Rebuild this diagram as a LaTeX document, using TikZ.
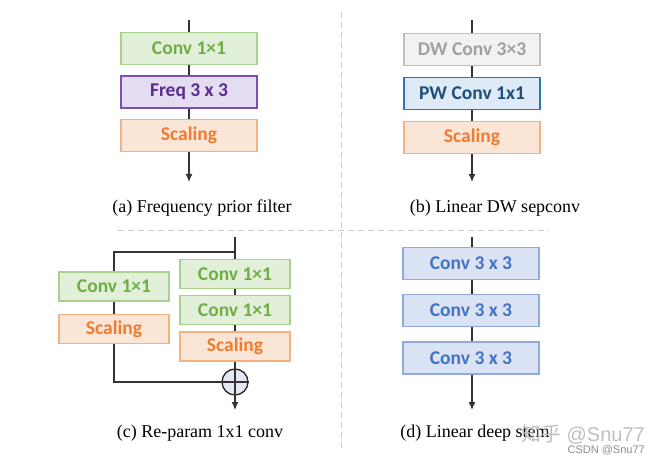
\documentclass[tikz,border=0pt]{standalone}
\usepackage{fontspec}
\setmainfont{Liberation Serif}
\newfontfamily\boxfont{Carlito}
\newfontfamily\cjk{Noto Sans CJK SC}
\newfontfamily\wmfont{Liberation Sans}
\usetikzlibrary{arrows.meta}
\definecolor{gfill}{HTML}{E2F0D9}\definecolor{gdraw}{HTML}{A9D18E}\definecolor{gtext}{HTML}{70AD47}
\definecolor{pfill}{HTML}{E4DCF0}\definecolor{pdraw}{HTML}{7E4FB0}\definecolor{ptext}{HTML}{5B2C8F}
\definecolor{ofill}{HTML}{FBE5D6}\definecolor{odraw}{HTML}{F4B183}\definecolor{otext}{HTML}{ED7D31}
\definecolor{wfill}{HTML}{F2F2F2}\definecolor{wdraw}{HTML}{BFBFBF}\definecolor{wtext}{HTML}{A0A0A0}
\definecolor{bfill}{HTML}{DEEBF7}\definecolor{bdraw}{HTML}{2E75B6}\definecolor{btext}{HTML}{1F4E79}
\definecolor{cfill}{HTML}{DAE3F3}\definecolor{cdraw}{HTML}{8FAADC}\definecolor{ctext}{HTML}{4472C4}
\definecolor{dashgray}{HTML}{C8C8C8}
\definecolor{addfill}{HTML}{E4E8F2}
\tikzset{
  blk/.style={draw, line width=1.1pt, minimum width=136pt, minimum height=32pt, inner sep=0pt,
    font=\boxfont\bfseries\fontsize{19.5}{21}\selectfont},
  blksmall/.style={blk, minimum width=110pt, minimum height=29pt},
  green/.style={fill=gfill, draw=gdraw, text=gtext},
  purple/.style={fill=pfill, draw=pdraw, text=ptext},
  orange/.style={fill=ofill, draw=odraw, text=otext},
  grayb/.style={fill=wfill, draw=wdraw, text=wtext},
  pwblue/.style={fill=bfill, draw=bdraw, text=btext},
  convblue/.style={fill=cfill, draw=cdraw, text=ctext},
  wire/.style={line width=1.3pt, draw=black!80},
  arr/.style={wire, -{Latex[length=8pt,width=7pt]}},
  captext/.style={font=\fontsize{18}{20}\selectfont, inner sep=0pt},
  sep/.style={draw=dashgray, line width=1pt, dash pattern=on 6pt off 4pt},
}
\begin{document}
\begin{tikzpicture}[x=1pt,y=-1pt]
\useasboundingbox (0,0) rectangle (658,465);
% separators
\draw[sep] (341,12) -- (341,452);
\draw[sep] (118,230) -- (549,230);

% (a)
\coordinate (ain) at (189,20);
\coordinate (aout) at (189,182);
\node[blk,green]  (a1) at (189,48.5) {Conv 1×1};
\node[blk,purple] (a2) at (189,92) {Freq 3 x 3};
\node[blk,orange] (a3) at (189,135.5) {Scaling};
\draw[wire] (ain) -- (a1);
\draw[wire] (a1) -- (a2);
\draw[wire] (a2) -- (a3);
\draw[arr] (a3) -- (aout);
\node[captext] (acap) at (202,208) {(a) Frequency prior filter};

% (b)
\coordinate (bin) at (472,20);
\coordinate (bout) at (472,182);
\node[blk,grayb]  (b1) at (472,49.5) {DW Conv 3×3};
\node[blk,pwblue] (b2) at (472,93.5) {PW Conv 1x1};
\node[blk,orange] (b3) at (472,137.5) {Scaling};
\draw[wire] (bin) -- (b1);
\draw[wire] (b1) -- (b2);
\draw[wire] (b2) -- (b3);
\draw[arr] (b3) -- (bout);
\node[captext] (bcap) at (495,208) {(b) Linear DW sepconv};

% (c)
\coordinate (cin) at (235,237);
\coordinate (csplit) at (235,252);
\coordinate (cleft) at (114,252);
\coordinate (cout) at (235,410);
\node[blksmall,green]  (l1) at (114,286.5) {Conv 1×1};
\node[blksmall,orange] (l2) at (114,329) {Scaling};
\node[blksmall,green]  (r1) at (235,274) {Conv 1×1};
\node[blksmall,green]  (r2) at (235,310) {Conv 1×1};
\node[blksmall,orange] (r3) at (235,346.5) {Scaling};
\node[circle, draw=black!85, line width=1.3pt, fill=addfill, minimum size=26pt, inner sep=0pt] (add) at (235,382) {};
\draw[wire] (add.north) -- (add.south);
\draw[wire] (add.west) -- (add.east);
\draw[wire] (cin) -- (r1);
\draw[wire] (csplit) -- (cleft) -- (l1);
\draw[wire] (l1) -- (l2);
\draw[wire] (l2) |- (add.west);
\draw[wire] (r1) -- (r2);
\draw[wire] (r2) -- (r3);
\draw[wire] (r3) -- (add);
\draw[arr] (add) -- (cout);
\node[captext] (ccap) at (200,433) {(c) Re-param 1x1 conv};

% (d)
\coordinate (din) at (472,237);
\coordinate (dout) at (472,410);
\node[blk,convblue] (d1) at (471,263.5) {Conv 3 x 3};
\node[blk,convblue] (d2) at (471,310.5) {Conv 3 x 3};
\node[blk,convblue] (d3) at (471,358) {Conv 3 x 3};
\draw[wire] (din) -- (din|-d1.north);
\draw[wire] (d1.south-|din) -- (d2.north-|din);
\draw[wire] (d2.south-|din) -- (d3.north-|din);
\draw[arr] (d3.south-|din) -- (dout);
\node[captext] (dcap) at (475,433) {(d) Linear deep stem};

% watermark
\node[text=black!25, font=\fontsize{20}{22}\selectfont, inner sep=0pt, anchor=east] (wm1) at (645,434) {{\cjk 知乎} {\wmfont @Snu77}};
\node[text=black!45, font=\wmfont\fontsize{11}{12}\selectfont, inner sep=0pt, anchor=east] (wm2) at (645,450) {CSDN @Snu77};
\end{tikzpicture}
\end{document}
